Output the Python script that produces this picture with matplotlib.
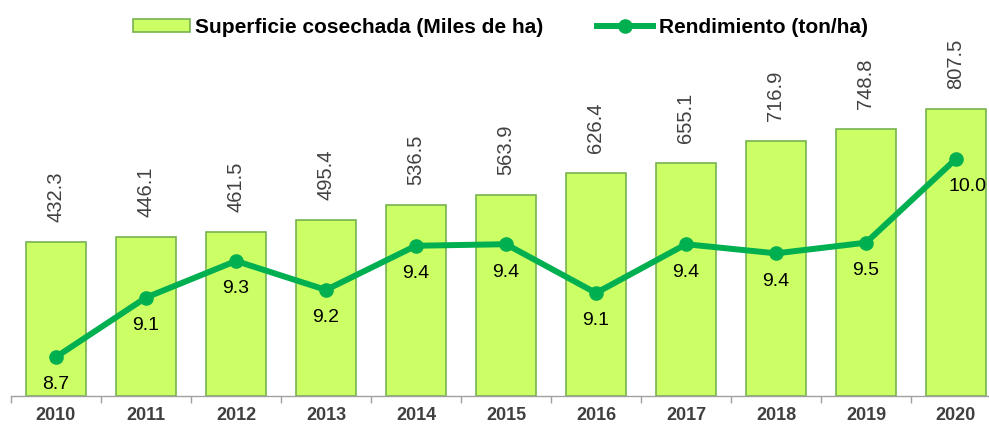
import matplotlib
matplotlib.use("Agg")
import matplotlib.pyplot as plt
from matplotlib.patches import Patch
from matplotlib.lines import Line2D

plt.rcParams['font.family'] = ['Liberation Sans', 'DejaVu Sans']

years = ["2010", "2011", "2012", "2013", "2014", "2015", "2016", "2017", "2018", "2019", "2020"]
superficie = [432.3, 446.1, 461.5, 495.4, 536.5, 563.9, 626.4, 655.1, 716.9, 748.8, 807.5]
rendimiento = [8.70, 9.09, 9.33, 9.14, 9.43, 9.44, 9.12, 9.44, 9.38, 9.45, 10.0]
rend_labels = ["8.7", "9.1", "9.3", "9.2", "9.4", "9.4", "9.1", "9.4", "9.4", "9.5", "10.0"]

BAR_FACE = "#ccff66"
BAR_EDGE = "#77b350"
LINE_COL = "#00b050"
GRAY = "#404040"

fig = plt.figure(figsize=(9.89, 4.24), dpi=100)
ax = fig.add_axes([11/989, 28/424, 990/989, 356/424])
x = list(range(len(years)))
ax.bar(x, superficie, width=0.667, color=BAR_FACE, edgecolor=BAR_EDGE, linewidth=1.2, zorder=2)
ax.set_xlim(-0.5, len(years) - 0.5)
ax.set_ylim(0, 1000)
for xi, v in zip(x, superficie):
    ax.annotate(f"{v:.1f}", (xi, v), xytext=(0, 20), textcoords="offset pixels",
                rotation=90, ha="center", va="bottom", fontsize=14.5, color=GRAY)

for s in ["top", "right", "left"]:
    ax.spines[s].set_visible(False)
ax.spines["bottom"].set_color("#a0a0a0")
ax.spines["bottom"].set_linewidth(1.0)
ax.set_yticks([])
ax.set_xticks([i - 0.5 for i in range(len(years) + 1)], minor=False)
ax.set_xticklabels([])
ax.tick_params(axis="x", which="major", length=5, color="#a0a0a0", width=1.0)
ax.set_xticks(x, minor=True)
ax.set_xticklabels(years, minor=True, fontsize=13, fontweight="bold", color=GRAY)
ax.tick_params(axis="x", which="minor", length=0, pad=8)

ax2 = ax.twinx()
ax2.set_ylim(8.444, 10.78)
ax2.plot(x, rendimiento, color=LINE_COL, linewidth=4.3, marker="o", markersize=9.5, zorder=3)
for s in ["top", "right", "left", "bottom"]:
    ax2.spines[s].set_visible(False)
ax2.set_yticks([])
for i, (xi, v, lab) in enumerate(zip(x, rendimiento, rend_labels)):
    dx = 12 if i == len(x) - 1 else 0
    ax2.annotate(lab, (xi, v), xytext=(dx, -28), textcoords="offset pixels",
                 ha="center", va="center", fontsize=14, color="black")

handles = [Patch(facecolor=BAR_FACE, edgecolor=BAR_EDGE, linewidth=1.2),
           Line2D([0], [0], color=LINE_COL, linewidth=4.3, marker="o", markersize=9.5)]
fig.legend(handles, ["Superficie cosechada (Miles de ha)", "Rendimiento (ton/ha)"],
           loc="center", bbox_to_anchor=(0.506, 0.936), ncol=2, frameon=False,
           prop={"weight": "bold", "size": 15}, handlelength=2.7, handletextpad=0.25,
           columnspacing=2.6, handleheight=0.6)

fig.savefig("out.png", dpi=100)
